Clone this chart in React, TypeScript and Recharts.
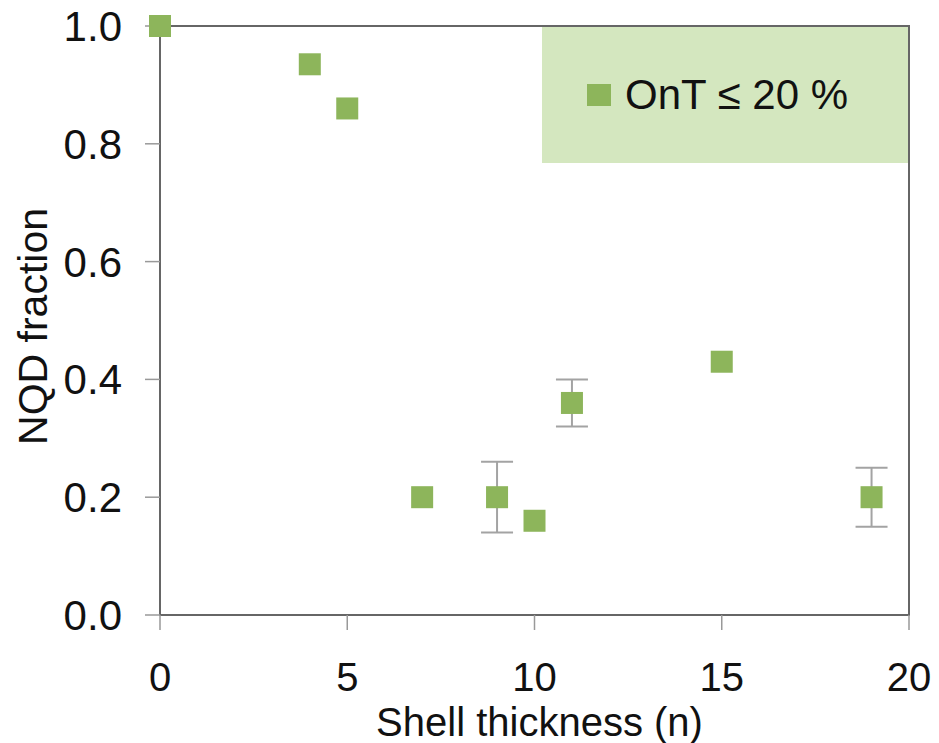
import React from "react";
import {
  ScatterChart,
  Scatter,
  XAxis,
  YAxis,
  ErrorBar,
  Legend,
  ReferenceArea,
} from "recharts";

// values
const shellThickness = [0, 4, 5, 7, 9, 10, 11, 15, 19];
const nqdFraction = [1.0, 0.935, 0.86, 0.2, 0.2, 0.16, 0.36, 0.43, 0.2];
const nqdError: (number[] | undefined)[] = [
  undefined, undefined, undefined, undefined,
  [0.06, 0.06], undefined, [0.04, 0.04], undefined, [0.05, 0.05],
];
const xTicks = [0, 5, 10, 15, 20];
const yTicks = [0, 0.2, 0.4, 0.6, 0.8, 1.0];
const seriesName = "OnT \u2264 20 %";

const data = shellThickness.map((n, i) => ({
  n,
  frac: nqdFraction[i],
  err: nqdError[i],
}));

const COLORS = {
  marker: "#8db55b",
  legendBg: "#d4e7bf",
  axis: "#666666",
  tick: "#999999",
  error: "#a3a3a3",
  text: "#111111",
};

const FONT = "'Liberation Sans', Arial, sans-serif";

function SquareMarker(props: any) {
  const { cx, cy } = props;
  if (cx == null || cy == null) return null;
  return <rect x={cx - 11} y={cy - 11} width={22} height={22} fill={COLORS.marker} />;
}

function LegendBox({ payload }: any) {
  return (
    <div
      style={{
        width: "100%",
        height: "100%",
        background: COLORS.legendBg,
        display: "flex",
        alignItems: "center",
        boxSizing: "border-box",
        paddingLeft: 45,
        fontFamily: FONT,
        fontSize: 42,
        color: COLORS.text,
      }}
    >
      {(payload || []).map((entry: any, i: number) => (
        <div key={i} style={{ display: "flex", alignItems: "center" }}>
          <span style={{ width: 24, height: 22, background: COLORS.marker, marginRight: 14 }} />
          <span style={{ lineHeight: 1 }}>{entry.value}</span>
        </div>
      ))}
    </div>
  );
}

function YTitle(props: any) {
  const vb = props.viewBox;
  const x = vb.x + 33;
  const y = vb.y + vb.height / 2 + 6;
  return (
    <text
      x={x}
      y={y}
      transform={`rotate(-90, ${x}, ${y})`}
      textAnchor="middle"
      dominantBaseline="central"
      fontFamily={FONT}
      fontSize={41}
      fill={COLORS.text}
    >
      NQD fraction
    </text>
  );
}

function XTitle(props: any) {
  const vb = props.viewBox;
  return (
    <text
      x={vb.x + vb.width / 2 + 5}
      y={vb.y + 121}
      textAnchor="middle"
      fontFamily={FONT}
      fontSize={40}
      fill={COLORS.text}
    >
      Shell thickness (n)
    </text>
  );
}

export default function App() {
  return (
    <div style={{ width: 939, height: 743, background: "#fff" }}>
      <style>{"body{margin:0}"}</style>
      <ScatterChart width={939} height={743} margin={{ top: 26, right: 30, bottom: 0, left: 0 }}>
        <XAxis
          type="number"
          dataKey="n"
          domain={[0, 20]}
          ticks={xTicks}
          height={128}
          axisLine={{ stroke: COLORS.axis, strokeWidth: 2 }}
          tickLine={{ stroke: COLORS.tick, strokeWidth: 1.5 }}
          tickSize={15}
          tickMargin={33}
          tick={{ fill: COLORS.text, fontSize: 40, fontFamily: FONT }}
          label={{ content: <XTitle /> }}
        />
        <YAxis
          type="number"
          dataKey="frac"
          domain={[0, 1]}
          ticks={yTicks}
          width={160}
          axisLine={{ stroke: COLORS.axis, strokeWidth: 2 }}
          tickLine={{ stroke: COLORS.tick, strokeWidth: 1.5 }}
          tickSize={15}
          tickMargin={23}
          tickFormatter={(v: number) => v.toFixed(1)}
          tick={{ fill: COLORS.text, fontSize: 42, fontFamily: FONT }}
          label={{ content: <YTitle /> }}
        />
        <ReferenceArea
          x1={0}
          x2={20}
          y1={0}
          y2={1}
          fill="none"
          fillOpacity={0}
          stroke={COLORS.axis}
          strokeWidth={2}
        />
        <Legend
          layout="vertical"
          align="center"
          verticalAlign="middle"
          wrapperStyle={{ top: 27, left: 542, width: 366, height: 136, margin: 0 }}
          content={<LegendBox />}
        />
        <Scatter
          name={seriesName}
          data={data}
          fill={COLORS.marker}
          shape={<SquareMarker />}
          isAnimationActive={false}
        >
          <ErrorBar
            dataKey="err"
            direction="y"
            width={16}
            stroke={COLORS.error}
            strokeWidth={2}
            isAnimationActive={false}
          />
        </Scatter>
      </ScatterChart>
    </div>
  );
}
